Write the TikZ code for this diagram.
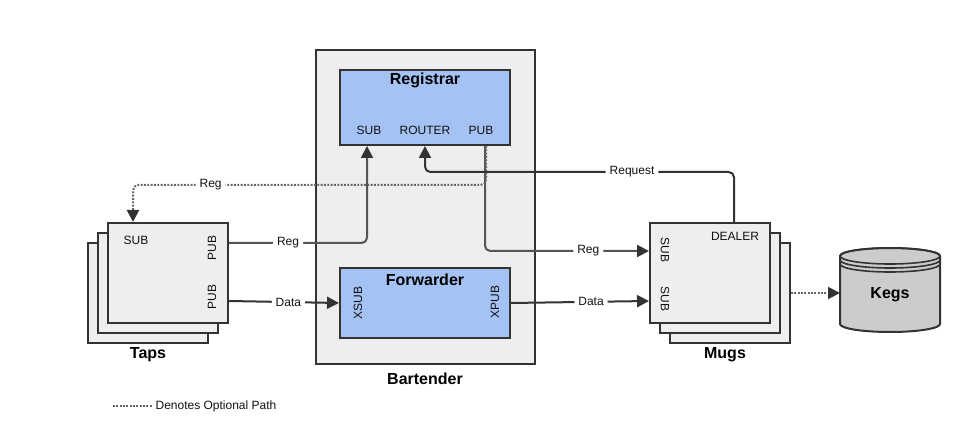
\documentclass[tikz,border=0pt]{standalone}
\usepackage{fontspec}
\setmainfont{Liberation Sans}
\usetikzlibrary{arrows.meta,fit,calc}
\definecolor{boxgray}{HTML}{EEEEEE}
\definecolor{blu}{HTML}{A4C2F4}
\definecolor{edge}{HTML}{333333}
\definecolor{edgetwo}{HTML}{555555}
\definecolor{optc}{HTML}{666666}
\definecolor{kegc}{HTML}{CCCCCC}
\definecolor{txt}{HTML}{111111}
\begin{document}
\begin{tikzpicture}[x=0.75pt,y=-0.75pt,
  every node/.style={font=\fontsize{9}{10}\selectfont, text=txt, inner sep=1pt},
  box/.style={draw=edge, line width=1.5pt, fill=boxgray, inner sep=0pt},
  bluebox/.style={box, fill=blu},
  title/.style={font=\bfseries\fontsize{12}{14}\selectfont, text=black},
  lbl/.style={fill=white, inner xsep=3pt, inner ysep=1pt},
  tip/.style={-{Triangle[length=9pt,width=9pt,color=edge]}},
  conn/.style={draw=edge, line width=1.5pt, tip, rounded corners=4pt},
  regconn/.style={conn, draw=edgetwo},
  opt/.style={draw=optc, line width=1.5pt, dash pattern=on 1.4pt off 1.1pt, rounded corners=4pt}
]
\useasboundingbox (0,0) rectangle (966,434);

% Bartender
\node[box, fit={(316,50)(535,364)}] (bart) {};
\node[title] (barttitle) at (425,379) {Bartender};
\node[bluebox, fit={(340,70)(510,145)}] (reg) {};
\node[title] (regtitle) at (425,80) {Registrar};
\node (regsub) at (369,130) {SUB};
\node (regrouter) at (425,130) {ROUTER};
\node (regpub) at (481,130) {PUB};
\node[bluebox, fit={(340,268)(510,338)}] (fwd) {};
\node[title] (fwdtitle) at (425,280) {Forwarder};
\node[rotate=90] (fwdxsub) at (358,303) {XSUB};
\node[rotate=90] (fwdxpub) at (495,302) {XPUB};

% Taps
\node[box, fit={(88,243)(208,343)}] (tap3) {};
\node[box, fit={(98,233)(218,333)}] (tap2) {};
\node[box, fit={(108,223)(228,323)}] (tap) {};
\node[title] (taptitle) at (148,355) {Taps};
\node (tapsub) at (136,240) {SUB};
\node[rotate=90] (tappub1) at (212,248) {PUB};
\node[rotate=90] (tappub2) at (212,297) {PUB};

% Mugs
\node[box, fit={(670,243)(790,343)}] (mug3) {};
\node[box, fit={(660,233)(780,333)}] (mug2) {};
\node[box, fit={(650,223)(770,323)}] (mug) {};
\node[title] (mugtitle) at (725,355) {Mugs};
\node (mugdealer) at (735,236) {DEALER};
\node[rotate=-90] (mugsub1) at (665,250) {SUB};
\node[rotate=-90] (mugsub2) at (665,299) {SUB};

% Kegs cylinder
\draw[draw=edge, line width=1.5pt, fill=kegc]
  (840,256) -- (840,324) arc[start angle=180, end angle=360, x radius=37.5pt, y radius=6pt]
  -- (940,256) arc[start angle=0, end angle=180, x radius=37.5pt, y radius=6pt] -- cycle;
\draw[draw=edge, line width=1.2pt] (890,256) ellipse[x radius=37.5pt, y radius=6pt];
\draw[draw=edge, line width=1.2pt] (840,260) arc[start angle=180, end angle=360, x radius=37.5pt, y radius=6pt];
\draw[draw=edge, line width=1.2pt] (840,264) arc[start angle=180, end angle=360, x radius=37.5pt, y radius=6pt];
\node[title] (kegs) at (890,295) {Kegs};

% connector end points
\coordinate (tapRegOut) at ($(tap.north east)+(0,21)$);
\coordinate (tapDataOut) at ($(tap.north east)+(0,79)$);
\coordinate (tapIn) at ($(tap.north west)+(26,0)$);
\coordinate (regSubIn) at ($(reg.south west)+(28,0)$);
\coordinate (routerIn) at (reg.south);
\coordinate (regPubOut) at ($(reg.south west)+(146,0)$);
\coordinate (mugRegIn) at ($(mug.north west)+(0,29)$);
\coordinate (mugDataIn) at ($(mug.north west)+(0,79)$);
\coordinate (mugDealerOut) at ($(mug.north west)+(85,0)$);
\coordinate (kegIn) at (840,293);

% connectors
\draw[regconn] (regPubOut) |- node[pos=0.815, lbl] {Reg} (mugRegIn);
\draw[opt, tip] ($(regPubOut)+(1,0)$) -- ++(0,39) -| node[pos=0.39, lbl] {Reg} (tapIn);
\draw[regconn] (tapRegOut) -| node[pos=0.214, lbl] {Reg} (regSubIn);
\draw[conn] (tapDataOut) -- node[pos=0.54, lbl] {Data} (fwd.west);
\draw[conn] (fwd.east) -- node[pos=0.58, lbl] {Data} (mugDataIn);
\draw[conn] (mugDealerOut) |- node[pos=0.665, lbl] {Request} ($(routerIn)+(0,26)$) -- (routerIn);
\draw[opt, tip] (mug3.east) -- (kegIn);

% legend
\coordinate (lg1) at (113,406);
\coordinate (lg2) at (152,406);
\draw[opt] (lg1) -- (lg2);
\node[anchor=west] (legend) at (154,406) {Denotes Optional Path};
\end{tikzpicture}
\end{document}
